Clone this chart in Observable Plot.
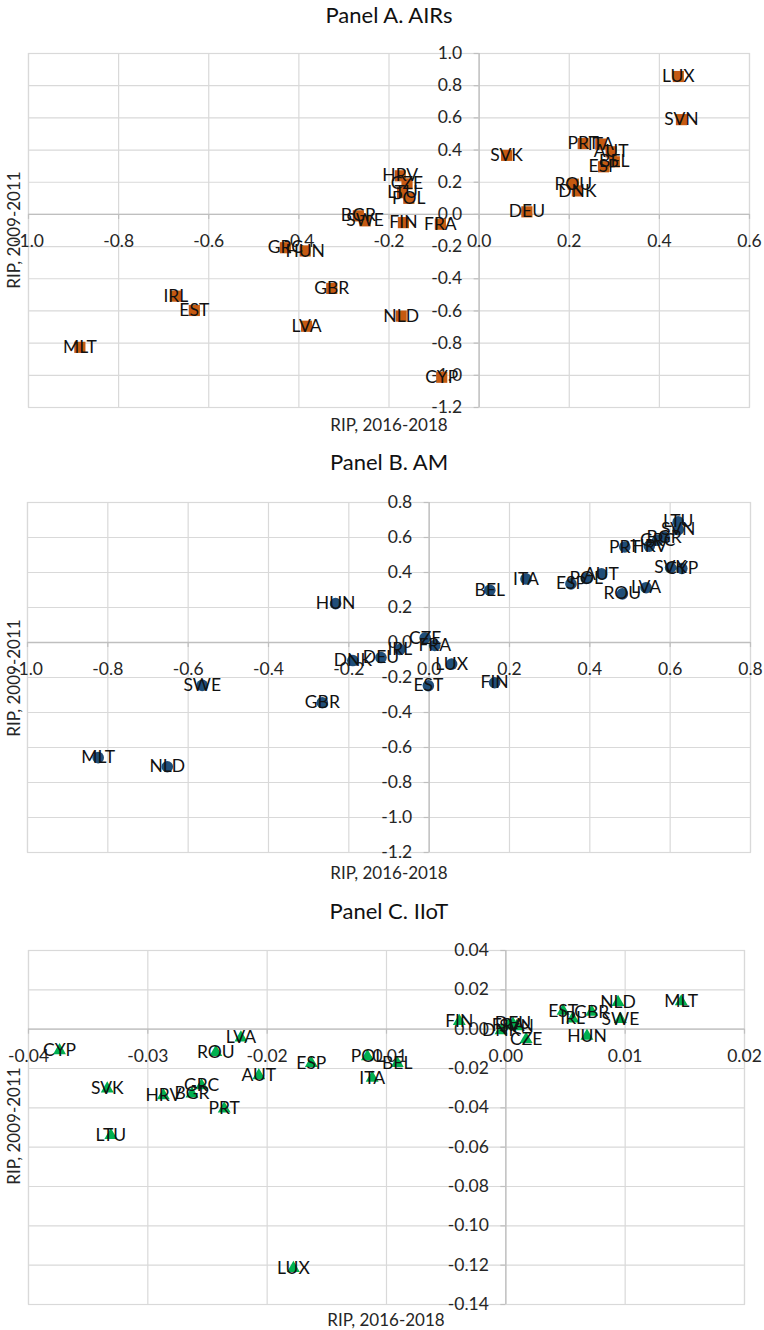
<!DOCTYPE html>
<html>
<head>
<meta charset="utf-8">
<script src="https://cdn.jsdelivr.net/npm/d3@7"></script>
<script src="https://cdn.jsdelivr.net/npm/@observablehq/plot@0.6"></script>
<style>
  body { margin: 0; background: #fff; }
  #wrap { position: relative; width: 764px; height: 1330px; font-family: Lato, sans-serif; color: #1a1a1a; overflow: hidden; }
  .ptitle { position: absolute; left: 0; width: 778px; text-align: center; font-size: 22px; line-height: 22px; color: #111; }
  .xtitle { position: absolute; width: 300px; text-align: center; font-size: 17px; line-height: 17px; color: #262626; }
  .ytitle { position: absolute; width: 200px; height: 20px; text-align: center; font-size: 17px; line-height: 20px; color: #262626; transform: rotate(-90deg); transform-origin: 50% 50%; }
  .chart { position: absolute; left: 0; }
</style>
</head>
<body>
<div id="wrap"></div>
<script>
// ---------- Panel A. AIRs ----------
const countriesA = ["LUX","SVN","PRT","ITA","AUT","BEL","ESP","SVK","ROU","DNK","DEU","HRV","CZE","LTU","POL","BGR","SWE","FIN","FRA","GRC","HUN","GBR","IRL","EST","LVA","NLD","MLT","CYP"];
const rip1618A = [0.442,0.449,0.231,0.270,0.293,0.300,0.276,0.061,0.209,0.218,0.106,-0.175,-0.160,-0.170,-0.156,-0.268,-0.253,-0.168,-0.086,-0.430,-0.386,-0.327,-0.673,-0.632,-0.383,-0.173,-0.886,-0.083];
const rip0911A = [0.857,0.589,0.440,0.437,0.389,0.327,0.296,0.367,0.188,0.146,0.016,0.240,0.190,0.135,0.100,-0.009,-0.040,-0.051,-0.061,-0.207,-0.227,-0.460,-0.508,-0.597,-0.695,-0.632,-0.826,-1.012];
const xTicksA = [-1.0,-0.8,-0.6,-0.4,-0.2,0.0,0.2,0.4,0.6];
const xTickLabelsA = ["-1.0","-0.8","-0.6","-0.4","-0.2","0.0","0.2","0.4","0.6"];
const yTicksA = [1.0,0.8,0.6,0.4,0.2,0.0,-0.2,-0.4,-0.6,-0.8,-1.0,-1.2];
const yTickLabelsA = ["1.0","0.8","0.6","0.4","0.2","0.0","-0.2","-0.4","-0.6","-0.8","-1.0","-1.2"];

// ---------- Panel B. AM ----------
const countriesB = ["HUN","BEL","ITA","ESP","POL","AUT","ROU","LVA","PRT","HRV","GRC","BGR","LTU","SVN","SVK","CYP","CZE","FRA","IRL","DEU","DNK","LUX","EST","FIN","SWE","GBR","MLT","NLD"];
const rip1618B = [-0.233,0.151,0.241,0.353,0.391,0.429,0.481,0.540,0.487,0.548,0.569,0.585,0.620,0.620,0.601,0.629,-0.010,0.014,-0.073,-0.120,-0.190,0.056,-0.002,0.163,-0.565,-0.266,-0.824,-0.652];
const rip0911B = [0.222,0.299,0.363,0.335,0.366,0.392,0.278,0.313,0.546,0.551,0.584,0.603,0.690,0.645,0.428,0.423,0.026,-0.017,-0.040,-0.086,-0.103,-0.123,-0.247,-0.230,-0.245,-0.344,-0.658,-0.710];
const xTicksB = [-1.0,-0.8,-0.6,-0.4,-0.2,0.0,0.2,0.4,0.6,0.8];
const xTickLabelsB = ["-1.0","-0.8","-0.6","-0.4","-0.2","0.0","0.2","0.4","0.6","0.8"];
const yTicksB = [0.8,0.6,0.4,0.2,0.0,-0.2,-0.4,-0.6,-0.8,-1.0,-1.2];
const yTickLabelsB = ["0.8","0.6","0.4","0.2","0.0","-0.2","-0.4","-0.6","-0.8","-1.0","-1.2"];

// ---------- Panel C. IIoT ----------
const countriesC = ["CYP","SVK","HRV","BGR","GRC","ROU","LVA","AUT","ESP","POL","ITA","BEL","PRT","LTU","LUX","FIN","DNK","FRA","DEU","SVN","CZE","EST","IRL","GBR","NLD","SWE","HUN","MLT"];
const rip1618C = [-0.0374,-0.0334,-0.0287,-0.0263,-0.0255,-0.0243,-0.0222,-0.0207,-0.0163,-0.0116,-0.0112,-0.0091,-0.0236,-0.0331,-0.0178,-0.0039,-0.0004,0.0002,0.0006,0.0009,0.0017,0.0048,0.0056,0.0072,0.0094,0.0096,0.0068,0.0147];
const rip0911C = [-0.0108,-0.0303,-0.0337,-0.0329,-0.0287,-0.0117,-0.0044,-0.0236,-0.0173,-0.0139,-0.0248,-0.0173,-0.0405,-0.0540,-0.1216,0.0040,-0.0007,0.0019,0.0027,0.0014,-0.0051,0.0092,0.0053,0.0087,0.0137,0.0050,-0.0035,0.0140];
const xTicksC = [-0.04,-0.03,-0.02,-0.01,0.00,0.01,0.02];
const xTickLabelsC = ["-0.04","-0.03","-0.02","-0.01","0.00","0.01","0.02"];
const yTicksC = [0.04,0.02,0.00,-0.02,-0.04,-0.06,-0.08,-0.10,-0.12,-0.14];
const yTickLabelsC = ["0.04","0.02","0.00","-0.02","-0.04","-0.06","-0.08","-0.10","-0.12","-0.14"];

const titles = ["Panel A. AIRs", "Panel B. AM", "Panel C. IIoT"];
const xAxisTitle = "RIP, 2016-2018";
const yAxisTitle = "RIP, 2009-2011";

function panel(o) {
  const data = o.names.map((c, i) => ({c, x: o.xs[i], y: o.ys[i]}));
  return Plot.plot({
    width: 764,
    height: o.height,
    marginLeft: o.marginLeft,
    marginRight: o.marginRight,
    marginTop: 10,
    marginBottom: 10,
    x: {domain: o.xDomain, axis: null},
    y: {domain: o.yDomain, axis: null},
    style: {fontFamily: "Lato, sans-serif", background: "transparent", overflow: "visible"},
    marks: [
      Plot.ruleX(o.xTicks, {x: d => d, stroke: "#d9d9d9", strokeWidth: 1.2}),
      Plot.ruleY(o.yTicks, {y: d => d, stroke: "#d9d9d9", strokeWidth: 1.2}),
      Plot.frame({stroke: "#d9d9d9", strokeWidth: 1.2}),
      Plot.ruleX([0], {stroke: "#bfbfbf", strokeWidth: 1.3}),
      Plot.ruleY([0], {stroke: "#bfbfbf", strokeWidth: 1.3}),
      Plot.ruleY(o.yTicks, {y: d => d, x1: 0, x2: 0, insetLeft: -5, stroke: "#bfbfbf", strokeWidth: 1.2}),
      Plot.ruleX(o.xTicks, {x: d => d, y1: 0, y2: 0, insetBottom: -5, stroke: "#bfbfbf", strokeWidth: 1.2}),
      Plot.text(o.yTicks, {x: 0, y: d => d, text: (d, i) => o.yLabels[i], textAnchor: "end", dx: -17, fill: "#262626", fontSize: 17.5}),
      Plot.text(o.xTicks, {x: d => d, y: 0, text: (d, i) => o.xLabels[i], dy: 27, fill: "#262626", fontSize: 17.5}),
      Plot.dot(data, {x: "x", y: "y", symbol: o.symbol, r: o.r, fill: o.color, stroke: "none"}),
      Plot.text(data, {x: "x", y: "y", text: "c", fill: "#111", fontSize: 17.5})
    ]
  });
}

const wrap = document.getElementById("wrap");
function addDiv(cls, text, style) {
  const d = document.createElement("div");
  d.className = cls;
  d.textContent = text;
  Object.assign(d.style, style);
  wrap.appendChild(d);
}
function addChart(svg, top) {
  svg.classList.add("chart");
  svg.style.top = top + "px";
  wrap.appendChild(svg);
}

addChart(panel({names: countriesA, xs: rip1618A, ys: rip0911A, xTicks: xTicksA, xLabels: xTickLabelsA, yTicks: yTicksA, yLabels: yTickLabelsA,
  xDomain: [-1.0, 0.6], yDomain: [-1.2, 1.0], symbol: "square", r: 6.3, color: "#c55a11", marginLeft: 28, marginRight: 15, height: 374}), 43);
addChart(panel({names: countriesB, xs: rip1618B, ys: rip0911B, xTicks: xTicksB, xLabels: xTickLabelsB, yTicks: yTicksB, yLabels: yTickLabelsB,
  xDomain: [-1.0, 0.8], yDomain: [-1.2, 0.8], symbol: "circle", r: 5.8, color: "#1f4e79", marginLeft: 27, marginRight: 14, height: 370}), 492);
addChart(panel({names: countriesC, xs: rip1618C, ys: rip0911C, xTicks: xTicksC, xLabels: xTickLabelsC, yTicks: yTicksC, yLabels: yTickLabelsC,
  xDomain: [-0.04, 0.02], yDomain: [-0.14, 0.04], symbol: "triangle", r: 4.8, color: "#00b050", marginLeft: 28, marginRight: 20, height: 374}), 940);

addDiv("ptitle", titles[0], {top: "4px"});
addDiv("ptitle", titles[1], {top: "451px"});
addDiv("ptitle", titles[2], {top: "900px"});
addDiv("xtitle", xAxisTitle, {top: "416px", left: "239px"});
addDiv("xtitle", xAxisTitle, {top: "864px", left: "239px"});
addDiv("xtitle", xAxisTitle, {top: "1311px", left: "236px"});
addDiv("ytitle", yAxisTitle, {left: "-86px", top: "220px"});
addDiv("ytitle", yAxisTitle, {left: "-86px", top: "668px"});
addDiv("ytitle", yAxisTitle, {left: "-86px", top: "1116px"});
</script>
</body>
</html>
